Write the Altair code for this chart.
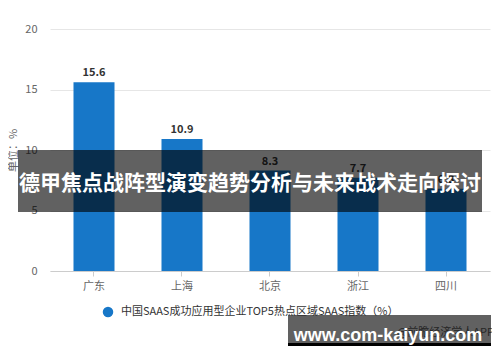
import altair as alt
import pandas as pd

regions = ["广东", "上海", "北京", "浙江", "四川"]
values = [15.6, 10.9, 8.3, 7.7, 6.8]
series_name = "中国SAAS成功应用型企业TOP5热点区域SAAS指数（%）"
y_ticks = [0, 5, 10, 15, 20]
y_title = "单位：%"
banner_text = "德甲焦点战阵型演变趋势分析与未来战术走向探讨"
watermark_text = "www.com-kaiyun.com"
source_text = "@前瞻经济学人APP"

FONT = "Noto Sans CJK SC"

df = pd.DataFrame({"region": regions, "value": values, "series": [series_name] * len(regions)})
one = pd.DataFrame({"k": [0]})

x_enc = alt.X("region:N", sort=regions,
              scale=alt.Scale(range=[8, 448], paddingInner=0.534, paddingOuter=0.267),
              axis=alt.Axis(title=None, labelAngle=0, labelFontSize=11, labelColor="#666",
                            labelFont=FONT, labelPadding=4, tickColor="#ccc", tickSize=5,
                            domainColor="#ccc", grid=False))
y_enc = alt.Y("value:Q", scale=alt.Scale(domain=[0, 20]),
              axis=alt.Axis(values=y_ticks, title=y_title, titleFont=FONT, titleFontSize=11,
                            titleColor="#666", titleFontWeight="normal", titleAngle=-90,
                            titleX=-29, titleY=121, titleAlign="center", titleBaseline="middle",
                            labelFontSize=11, labelColor="#666", labelFont=FONT, labelPadding=5,
                            ticks=False, domain=False, gridColor="#e6e6e6"))

bars = alt.Chart(df).mark_bar().encode(
    x=x_enc, y=y_enc,
    color=alt.Color("series:N", scale=alt.Scale(range=["#1777c8"]),
                    legend=alt.Legend(title=None, orient="none", legendX=60, legendY=277,
                                      symbolType="circle", symbolSize=110, labelFont=FONT,
                                      labelFontSize=11, labelColor="#333", labelLimit=500,
                                      padding=0, labelOffset=7))
)

labels = alt.Chart(df).mark_text(dy=-9, fontSize=11, fontWeight="bold", color="#333", font=FONT).encode(
    x=alt.X("region:N", sort=regions), y="value:Q", text=alt.Text("value:Q", format=".1f")
)

source = alt.Chart(one).mark_text(align="right", baseline="middle", fontSize=11, color="#666", font=FONT).encode(
    x=alt.value(452), y=alt.value(304), text=alt.value(source_text)
)

banner_rect = alt.Chart(one).mark_rect(color="black", opacity=0.62).encode(
    x=alt.value(-24), x2=alt.value(440), y=alt.value(121), y2=alt.value(183)
)
banner = alt.Chart(one).mark_text(align="center", baseline="middle", fontSize=21, fontWeight="bold",
                                  color="white", font=FONT).encode(
    x=alt.value(208), y=alt.value(155), text=alt.value(banner_text)
)

wm_rect = alt.Chart(one).mark_rect(color="black", opacity=0.62).encode(
    x=alt.value(246), x2=alt.value(449), y=alt.value(286), y2=alt.value(314)
)
wm_bar = alt.Chart(one).mark_rect(color="black").encode(
    x=alt.value(246), x2=alt.value(449), y=alt.value(314), y2=alt.value(323)
)
wm_text = alt.Chart(one).mark_text(align="center", baseline="alphabetic", fontSize=18, fontWeight="bold",
                                   color="white", font="Liberation Sans").encode(
    x=alt.value(346), y=alt.value(312), text=alt.value(watermark_text)
)

chart = alt.layer(bars, labels, source, banner_rect, banner, wm_rect, wm_bar, wm_text).properties(
    width=448, height=242,
    autosize=alt.AutoSizeParams(type="none"),
    padding={"left": 34, "top": 21, "right": 2, "bottom": 75},
).configure_view(stroke=None)

chart.save("out.html", embed_options={"renderer": "svg", "actions": False})
